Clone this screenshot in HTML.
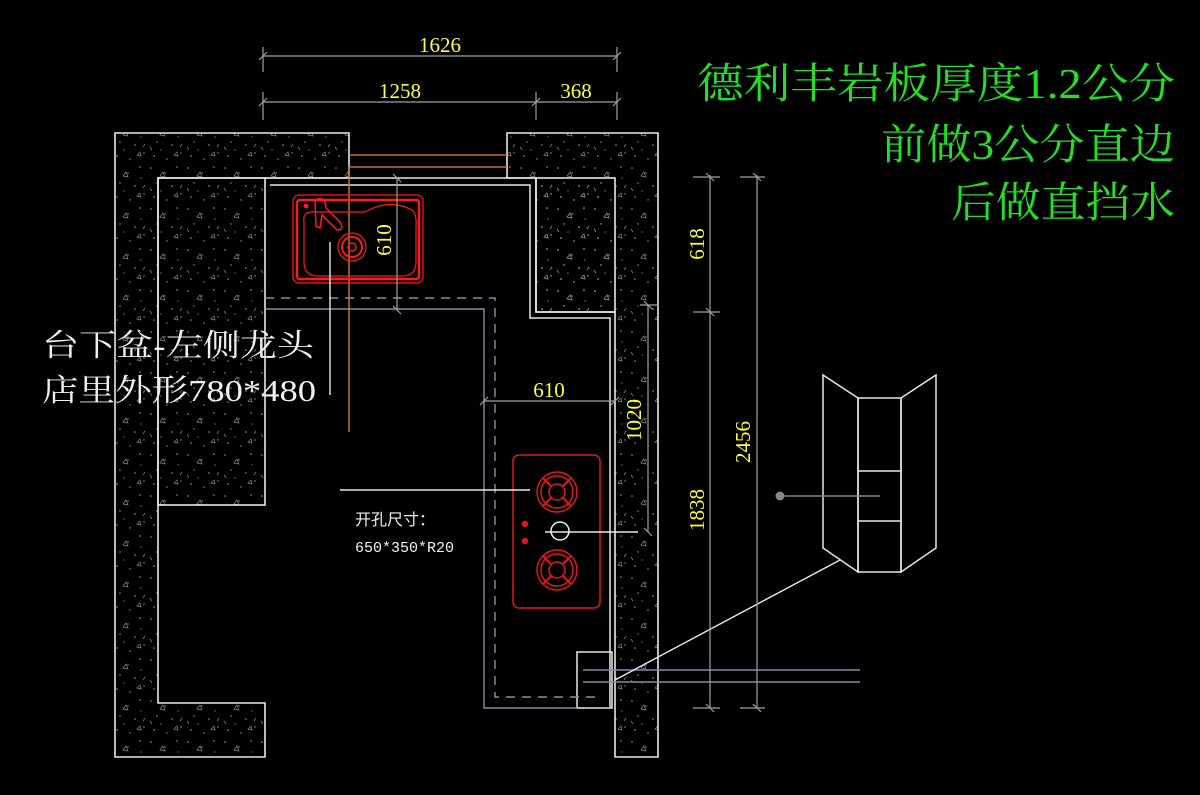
<!DOCTYPE html>
<html><head><meta charset="utf-8"><style>
html,body{margin:0;padding:0;background:#000;}
svg{display:block;}
</style></head><body>
<svg width="1200" height="795" viewBox="0 0 1200 795" xmlns="http://www.w3.org/2000/svg">
<defs>
<pattern id="sp" width="37" height="41" patternUnits="userSpaceOnUse">
<g fill="#9a9a9a">
<circle cx="3" cy="4" r="0.8"/><circle cx="17" cy="9" r="0.7"/><circle cx="29" cy="3" r="0.8"/>
<circle cx="9" cy="19" r="0.7"/><circle cx="24" cy="22" r="0.8"/><circle cx="33" cy="30" r="0.7"/>
<circle cx="6" cy="33" r="0.8"/><circle cx="19" cy="36" r="0.7"/><circle cx="13" cy="27" r="0.6"/>
<circle cx="30" cy="14" r="0.6"/>
</g>
<g fill="none" stroke="#888" stroke-width="0.7">
<path d="M12 12 l3 -4 l2 5 z"/><path d="M26 32 l3 -3 l1 4 z"/><path d="M2 24 l2 3"/><path d="M34 21 l-2 3"/>
</g>
</pattern>
</defs>
<rect width="1200" height="795" fill="#000"/>

<g fill="url(#sp)" stroke="#e8e8e8" stroke-width="1.6">
<path d="M115 133 H349 V178 H158 V703 H265 V757 H115 Z"/>
<rect x="158" y="178" width="107" height="327"/>
<path d="M507 133 H658 V757 H615 V312 H536 V178 H507 Z"/>
<rect x="536" y="178" width="79" height="134"/>
</g>
<g stroke="#e8e8e8" stroke-width="1.5" fill="none">
<path d="M265 178 H536"/>
<path d="M270 185 H530 V318 H610 V707"/>
<rect x="577" y="652" width="35" height="56"/>
</g>

<g stroke="#c8702a" stroke-width="1.5">
<line x1="349" y1="155" x2="507" y2="155"/>
<line x1="349" y1="167" x2="507" y2="167"/>
<line x1="349" y1="167" x2="349" y2="432"/>
</g>

<g stroke="#8090a8" stroke-width="1.4" fill="none">
<path d="M265 309 H484 V708 H577"/>
<path d="M265 298 H495 V697 H600" stroke-dasharray="9 7"/>
<line x1="583" y1="670" x2="860" y2="670"/>
<line x1="583" y1="682" x2="860" y2="682"/>
</g>

<g stroke="#ff1a1a" fill="none">
<rect x="293" y="195" width="130" height="88" rx="6" stroke-width="1.2"/>
<rect x="297" y="200" width="122" height="79" rx="3" stroke-width="2.5"/>
<path d="M304 222 Q302 210 318 212 H365 Q390 198 412 210 Q417 214 416 228 V262 Q416 276 402 276 H318 Q304 276 304 262 Z" stroke-width="1.2"/>
<circle cx="352" cy="247" r="14" stroke-width="1.2"/>
<circle cx="352" cy="247" r="10" stroke-width="2"/>
<circle cx="352" cy="247" r="4" stroke-width="1.5"/>
<path d="M315 200 Q325 195 326 208 L340 222 Q345 230 337 230 L322 215 L320 228 L316 226 Z" stroke-width="1.5"/>
<circle cx="306" cy="206" r="2" fill="#ff1a1a"/>
</g>

<g stroke="#e01818" fill="none" stroke-width="1.5">
<rect x="513" y="455" width="87" height="153" rx="6"/>
<g id="b"><circle cx="557" cy="492" r="20"/><circle cx="557" cy="492" r="16"/><circle cx="557" cy="492" r="8"/>
<path d="M543 478 L551 486 M571 478 L563 486 M543 506 L551 498 M571 506 L563 498" stroke-width="2"/></g>
<use href="#b" y="78"/>
<circle cx="525" cy="524" r="2.5" fill="#e01818"/><circle cx="525" cy="541" r="2.5" fill="#e01818"/>
</g>
<circle cx="560" cy="531" r="9" stroke="#eee" fill="none" stroke-width="1.5"/>

<g stroke="#e8e8e8" stroke-width="1.4">
<line x1="330" y1="242" x2="330" y2="395"/>
<line x1="340" y1="490" x2="530" y2="490"/>
<line x1="545" y1="532" x2="638" y2="532"/>
<line x1="615" y1="680" x2="840" y2="560"/>
</g>

<g stroke="#a0a0a0" stroke-width="1.2" fill="none">
<line x1="263" y1="56" x2="617" y2="56"/>
<line x1="263" y1="102" x2="617" y2="102"/>
<path d="M263 47 V72 M617 47 V72 M263 92 V120 M536 92 V120 M617 92 V120"/>
<path d="M259 60 l8 -8 M613 60 l8 -8 M259 106 l8 -8 M532 106 l8 -8 M613 106 l8 -8"/>
<line x1="397" y1="178" x2="397" y2="310"/>
<path d="M393 174 l8 8 M393 306 l8 8"/>
<line x1="484" y1="401" x2="615" y2="401"/>
<path d="M480 405 l8 -8 M611 405 l8 -8"/>
<line x1="648" y1="305" x2="648" y2="532"/>
<path d="M640 305 H658 M644 301 l8 8 M644 528 l8 8"/>
<line x1="710" y1="175" x2="710" y2="707"/>
<line x1="757" y1="175" x2="757" y2="707"/>
<path d="M693 177 H720 M740 177 H765 M693 312 H720 M693 708 H720 M740 708 H765"/>
<path d="M706 173 l8 8 M753 173 l8 8 M706 308 l8 8 M706 704 l8 8 M753 704 l8 8"/>
</g>

<g fill="#ffff33" font-family="Liberation Serif, serif" font-size="21">
<text x="440" y="52" text-anchor="middle">1626</text>
<text x="400" y="98" text-anchor="middle">1258</text>
<text x="576" y="98" text-anchor="middle">368</text>
<text x="549" y="397" text-anchor="middle">610</text>
<text transform="translate(391 240) rotate(-90)" text-anchor="middle">610</text>
<text transform="translate(641 420) rotate(-90)" text-anchor="middle">1020</text>
<text transform="translate(704 244) rotate(-90)" text-anchor="middle">618</text>
<text transform="translate(704 510) rotate(-90)" text-anchor="middle">1838</text>
<text transform="translate(750 442) rotate(-90)" text-anchor="middle">2456</text>
</g>

<g stroke="#e8e8e8" stroke-width="1.5" fill="none">
<path d="M823 375 L858 398 V572 L823 548 Z"/>
<path d="M936 375 L901 398 V572 L936 548 Z"/>
<rect x="858" y="398" width="43" height="174"/>
<line x1="858" y1="471" x2="901" y2="471"/>
<line x1="858" y1="521" x2="901" y2="521"/>
</g>
<line x1="780" y1="496" x2="880" y2="496" stroke="#888" stroke-width="1.4"/>
<circle cx="780" cy="496" r="4.5" fill="#888"/>

<g fill="#f0f0f0" font-family="Liberation Serif, Noto Serif CJK SC, serif">
<text x="42" y="356" font-size="31" textLength="272" lengthAdjust="spacingAndGlyphs">台下盆-左侧龙头</text>
<text x="42" y="401" font-size="31" textLength="274" lengthAdjust="spacingAndGlyphs">店里外形780*480</text>
</g>
<g fill="#f0f0f0" font-family="Liberation Sans, Noto Sans CJK SC, sans-serif">
<text x="355" y="525" font-size="16">开孔尺寸：</text>
<text x="355" y="552" font-size="15" font-family="Liberation Mono, monospace">650*350*R20</text>
</g>
<g fill="#22e022" font-family="Liberation Serif, Noto Serif CJK SC, serif" font-size="42" text-anchor="end">
<text x="1175" y="98" textLength="478" lengthAdjust="spacingAndGlyphs">德利丰岩板厚度1.2公分</text>
<text x="1175" y="159" textLength="294" lengthAdjust="spacingAndGlyphs">前做3公分直边</text>
<text x="1175" y="217" textLength="224" lengthAdjust="spacingAndGlyphs">后做直挡水</text>
</g>
</svg>
</body></html>
